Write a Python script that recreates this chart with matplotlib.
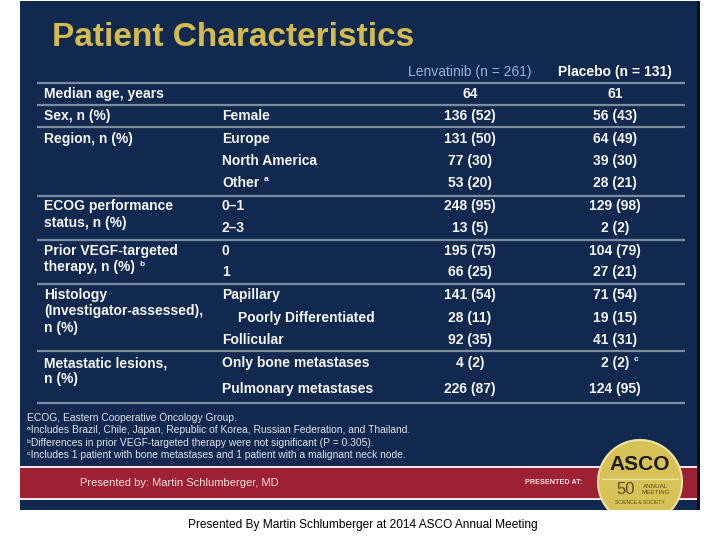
import matplotlib.pyplot as plt
from matplotlib.patches import Rectangle, Circle

plt.rcParams['font.family'] = ['Liberation Sans', 'DejaVu Sans']

# Table content
group_labels = [["Median age, years"],
                ["Sex, n (%)"],
                ["Region, n (%)"],
                ["ECOG performance", "status, n (%)"],
                ["Prior VEGF-targeted", "therapy, n (%)"],
                ["Histology", "(Investigator-assessed),", "n (%)"],
                ["Metastatic lesions,", "n (%)"]]
sub_labels = [[""], ["Female"], ["Europe", "North America", "Other"],
              ["0\u20131", "2\u20133"], ["0", "1"],
              ["Papillary", "Poorly Differentiated", "Follicular"],
              ["Only bone metastases", "Pulmonary metastases"]]
lenvatinib = [["64"], ["136 (52)"], ["131 (50)", "77 (30)", "53 (20)"],
              ["248 (95)", "13 (5)"], ["195 (75)", "66 (25)"],
              ["141 (54)", "28 (11)", "92 (35)"], ["4 (2)", "226 (87)"]]
placebo = [["61"], ["56 (43)"], ["64 (49)", "39 (30)", "28 (21)"],
           ["129 (98)", "2 (2)"], ["104 (79)", "27 (21)"],
           ["71 (54)", "19 (15)", "41 (31)"], ["2 (2)", "124 (95)"]]
col_headers = ["Lenvatinib (n = 261)", "Placebo (n = 131)"]
footnotes = ["ECOG, Eastern Cooperative Oncology Group.",
             "\u1d43Includes Brazil, Chile, Japan, Republic of Korea, Russian Federation, and Thailand.",
             "\u1d47Differences in prior VEGF-targeted therapy were not significant (P = 0.305).",
             "\u1d9cIncludes 1 patient with bone metastases and 1 patient with a malignant neck node."]

# layout (pixel coordinates)
row_y = [[94], [116], [139, 161, 183], [206, 228], [251, 272], [295, 318, 340], [363, 389]]
sep_y = [83, 105, 127, 196, 240, 284, 351, 403]
label_step = 16.5
x_label, x_sub, x_len, x_pla = 44, 222, 470, 615

navy = '#12294f'
gold = '#d4bb4f'
line_col = '#7d8d9c'
white = '#f5f5f5'

fig = plt.figure(figsize=(7.2, 5.4), dpi=100)
ax = fig.add_axes([0, 0, 1, 1])
ax.set_xlim(0, 720)
ax.set_ylim(540, 0)
ax.axis('off')

# slide background
slide = Rectangle((20, 1), 677, 509, facecolor=navy, edgecolor='none')
ax.add_patch(slide)
ax.add_patch(Rectangle((697, 1), 3, 509, facecolor='#0a0f1c', edgecolor='none'))

ax.text(52, 38, "Patient Characteristics", color=gold, fontsize=24, fontweight='bold',
        va='center', ha='left')

# header
ax.text(x_len, 72, col_headers[0], color='#8fb4e0', fontsize=10, ha='center', va='center')
ax.text(x_pla, 72, col_headers[1], color='white', fontsize=10, fontweight='bold',
        ha='center', va='center')

for y in sep_y:
    ax.plot([37, 685], [y, y], color=line_col, lw=1.6, solid_capstyle='butt')


def superscript(artist, letter):
    ax.annotate(letter, xy=(1, 1), xycoords=artist, xytext=(3, 0), textcoords='offset points',
                color=white, fontsize=6, fontweight='bold', va='top', ha='left')


txt = dict(color=white, fontsize=10, fontweight='bold', va='center')
for g in range(len(group_labels)):
    for k, line in enumerate(group_labels[g]):
        t = ax.text(x_label, row_y[g][0] + k * label_step, line, ha='left', **txt)
        if g == 4 and k == 1:
            superscript(t, 'b')
    for r, y in enumerate(row_y[g]):
        xs = x_sub + 16 if sub_labels[g][r] == "Poorly Differentiated" else x_sub
        s = ax.text(xs, y, sub_labels[g][r], ha='left', **txt)
        if sub_labels[g][r] == "Other":
            superscript(s, 'a')
        ax.text(x_len, y, lenvatinib[g][r], ha='center', **txt)
        p = ax.text(x_pla, y, placebo[g][r], ha='center', **txt)
        if g == 6 and r == 0:
            superscript(p, 'c')

for i, note in enumerate(footnotes):
    ax.text(27, 418 + i * 12.4, note, color='#dfe3ea', fontsize=7.4, ha='left', va='center')

# footer band
ax.add_patch(Rectangle((20, 466), 677, 2, facecolor='#f2e6ea', edgecolor='none'))
ax.add_patch(Rectangle((20, 468), 677, 30, facecolor='#9c2133', edgecolor='none'))
ax.add_patch(Rectangle((20, 498), 677, 2, facecolor='#f2e6ea', edgecolor='none'))
ax.text(80, 483, "Presented by: Martin Schlumberger, MD", color='#f1e4e6', fontsize=8,
        ha='left', va='center')
ax.text(525, 483, "PRESENTED AT:", color='#f1e4e6', fontsize=5.2, fontweight='bold',
        ha='left', va='center')

# ASCO badge
badge = Circle((640, 482), 42, facecolor='#d6c256', edgecolor='#efe4a8', lw=1.5)
ax.add_patch(badge)
badge.set_clip_path(slide)
ax.plot([602, 678], [479, 479], color='#efe4a8', lw=1)
ax.text(640, 465, "ASCO", color='#1c1c1c', fontsize=15, fontweight='bold', ha='center', va='center')
ax.text(626, 490, "50", color='#5a4e1e', fontsize=12, ha='center', va='center')
ax.text(656, 486, "ANNUAL", color='#5a4e1e', fontsize=4.5, ha='center', va='center')
ax.text(656, 493, "MEETING", color='#5a4e1e', fontsize=4.5, ha='center', va='center')
ax.text(640, 502, "SCIENCE & SOCIETY", color='#5a4e1e', fontsize=3.6, ha='center', va='center')

ax.text(363, 525, "Presented By Martin Schlumberger at 2014 ASCO Annual Meeting",
        color='black', fontsize=8.6, ha='center', va='center')

fig.savefig('out.png', dpi=100)
